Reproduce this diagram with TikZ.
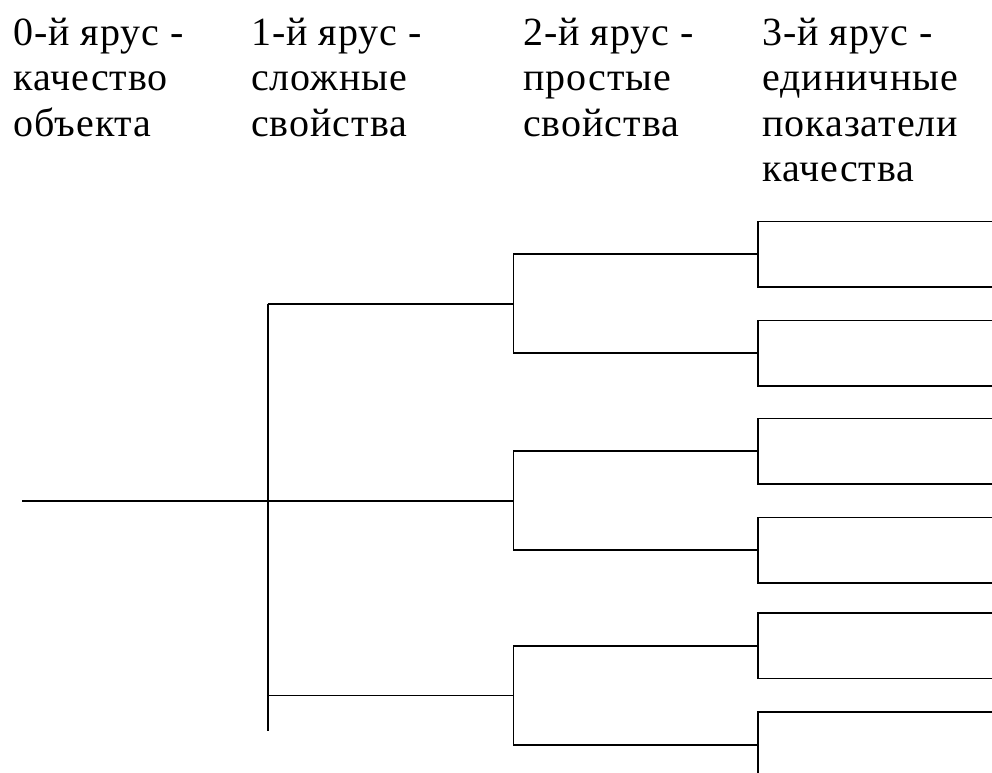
\documentclass[tikz,border=0pt]{standalone}
\usepackage{fontspec}
\setmainfont{Liberation Serif}[LetterSpace=2.5]
\begin{document}
\begin{tikzpicture}[x=1pt,y=-1pt,
  tree/.style={draw=black, line width=1.6pt},
  hdr/.style={anchor=base west, inner sep=0pt, font=\fontsize{40}{45.5}\selectfont}]
\useasboundingbox (0,0) rectangle (992,772);
% headers
\node[hdr] (h0) at (13,45) {\parbox[t]{230pt}{\raggedright 0-й ярус -\\качество\\объекта}};
\node[hdr] (h1) at (251,45) {\parbox[t]{230pt}{\raggedright 1-й ярус -\\сложные\\свойства}};
\node[hdr] (h2) at (523,45) {\parbox[t]{230pt}{\raggedright 2-й ярус -\\простые\\свойства}};
\node[hdr] (h3) at (762,45) {\parbox[t]{230pt}{\raggedright 3-й ярус -\\единичные\\показатели\\качества}};
% level 0 and 1
\coordinate (root) at (22,500.7);
\coordinate (n1) at (267.7,500.7);
\coordinate (n1top) at (267.7,303.7);
\coordinate (n1bot) at (267.7,695.3);
\coordinate (n1end) at (267.7,730.7);
\coordinate (s1) at (513.3,303.7);
\coordinate (s2) at (513.3,500.7);
\coordinate (s3) at (513.3,695.3);
\draw[tree] (root) -- (n1) -- (s2);
\draw[tree] (n1top) -- (n1bot) -- (n1end);
\draw[tree] (n1top) -- (s1);
\draw[tree] (n1bot) -- (s3);
% level 2 brackets and level 3 brackets
\foreach \k in {1,2,3}{
  \coordinate (s\k u) at ([yshift=-49.5pt]s\k);
  \coordinate (s\k d) at ([yshift=49.5pt]s\k);
  \coordinate (t\k u) at ([yshift=-49.5pt]s\k -| 758,0);
  \coordinate (t\k d) at ([yshift=49.5pt]s\k -| 758,0);
  \draw[tree] (t\k u) -- (s\k u) -- (s\k d) -- (t\k d);
  \foreach \p in {u,d}{
    \coordinate (t\k\p a) at ([yshift=-32.7pt]t\k\p);
    \coordinate (t\k\p b) at ([yshift=32.7pt]t\k\p);
    \draw[tree] (t\k\p a -| 992,0) -- (t\k\p a) -- (t\k\p b) -- (t\k\p b -| 992,0);
  }
}
\end{tikzpicture}
\end{document}
